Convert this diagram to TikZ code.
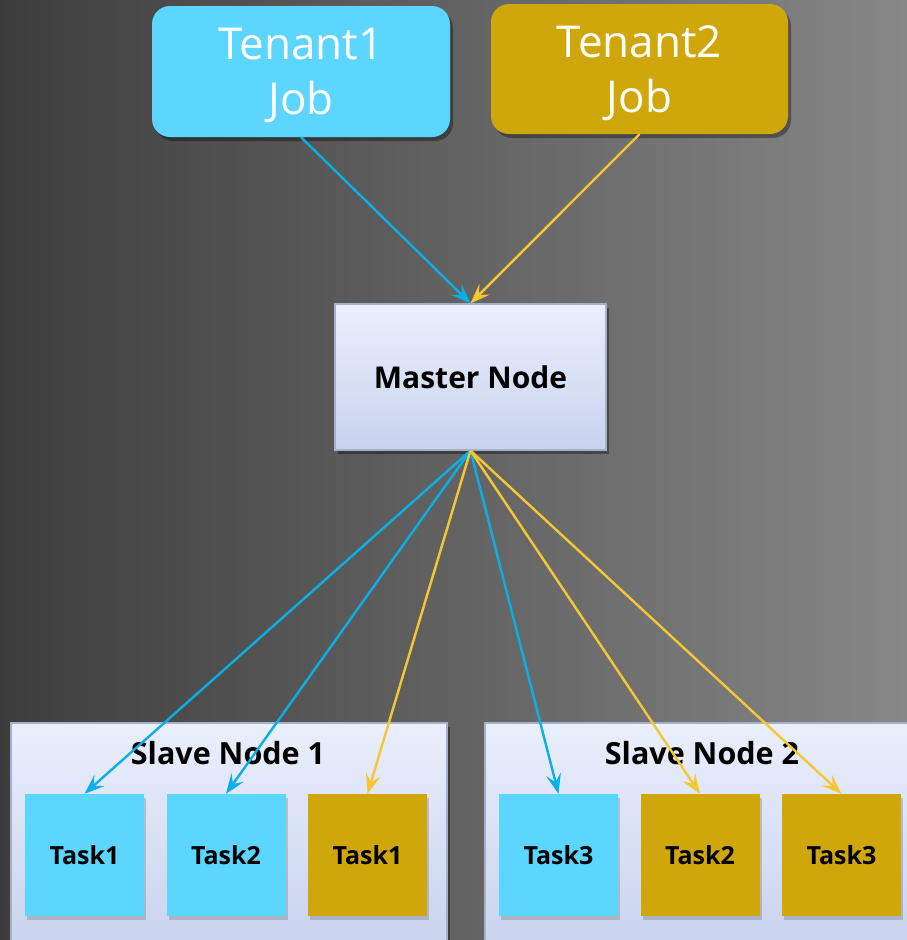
\documentclass[tikz,border=0pt]{standalone}
\usepackage{fontspec}
\setmainfont{Open Sans}
\usetikzlibrary{arrows.meta,shadows}

\definecolor{tblue}{HTML}{5CD5FF}
\definecolor{tgold}{HTML}{D0A70A}
\definecolor{lblue}{HTML}{0AAFE6}
\definecolor{lgold}{HTML}{F5C833}
\definecolor{paletop}{HTML}{EAEFFC}
\definecolor{palebot}{HTML}{C9D3EE}
\definecolor{rim}{HTML}{A5B1CB}

\tikzset{
  tenantbox/.style={rounded corners=18pt,inner sep=0pt,text=white,align=center,text depth=0pt,
    font=\fontsize{44}{55}\selectfont,drop shadow={fill=black,opacity=.35,shadow xshift=3pt,shadow yshift=-4pt}},
  palebox/.style={draw=rim,line width=1.2pt,top color=paletop,bottom color=palebot,inner sep=0pt,
    drop shadow={fill=black,opacity=.35,shadow xshift=3pt,shadow yshift=-4pt}},
  taskbox/.style={minimum width=119pt,minimum height=122pt,inner sep=0pt,
    font=\bfseries\fontsize{25}{29}\selectfont,drop shadow={fill=black!60,opacity=.3,shadow xshift=2pt,shadow yshift=-4pt}},
  tip/.style={-{Stealth[length=20pt,width=15pt,inset=8pt]},line width=2.4pt},
}

\begin{document}
\begin{tikzpicture}[x=1pt,y=-1pt]

  \clip (0,0) rectangle (907,940);
  \shade[left color=black!76,right color=black!47] (0,0) rectangle (907,940);

  % jobs
  \node[tenantbox,fill=tblue,minimum width=298pt,minimum height=131pt] (j1) at (301,71.5) {Tenant1\\Job};
  \node[tenantbox,fill=tgold,minimum width=297pt,minimum height=130pt] (j2) at (639.5,69) {Tenant2\\Job};

  % master
  \node[palebox,minimum width=271pt,minimum height=146pt,font=\bfseries\fontsize{30}{35}\selectfont] (m) at (470.5,377) {Master Node};

  % slaves
  \node[palebox,minimum width=436pt,minimum height=224pt] (s1) at (229,835) {};
  \node[palebox,minimum width=440pt,minimum height=224pt] (s2) at (705,835) {};
  \node[font=\bfseries\fontsize{30.5}{35}\selectfont] (l1) at (228,753) {Slave Node 1};
  \node[font=\bfseries\fontsize{30.5}{35}\selectfont] (l2) at (702,753) {Slave Node 2};

  \begin{scope}[every node/.style={taskbox}]
    \node[fill=tblue] (a1) at (84.5,855)  {Task1};
    \node[fill=tblue] (a2) at (226,855)   {Task2};
    \node[fill=tgold] (b1) at (367.5,855) {Task1};
    \node[fill=tblue] (a3) at (558.5,855) {Task3};
    \node[fill=tgold] (b2) at (700,855)   {Task2};
    \node[fill=tgold] (b3) at (841.5,855) {Task3};
  \end{scope}

  \begin{scope}[every edge/.style={draw,tip,lblue}]
    \path (j1.south) edge (m.north);
    \path (m.south) edge (a1.north);
    \path (m.south) edge (a2.north);
    \path (m.south) edge (a3.north);
  \end{scope}

  \begin{scope}[every edge/.style={draw,tip,lgold}]
    \path (j2.south) edge (m.north);
    \path (m.south) edge (b1.north);
    \path (m.south) edge (b2.north);
    \path (m.south) edge (b3.north);
  \end{scope}

\end{tikzpicture}
\end{document}
